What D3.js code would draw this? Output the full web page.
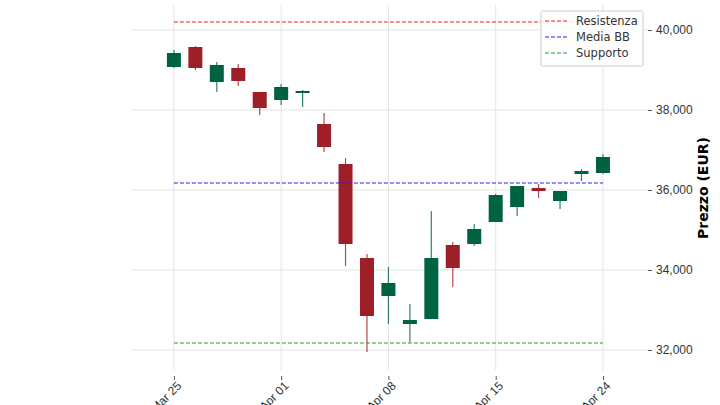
<!DOCTYPE html><html><head><meta charset="utf-8">
<script src="https://cdn.jsdelivr.net/npm/d3@7"></script>
<style>body{margin:0;background:#fff;font-family:"DejaVu Sans",sans-serif}</style></head><body>
<svg id="c" width="720" height="405"></svg>
<script>
const dates=["Mar 25","Mar 26","Mar 27","Mar 28","Mar 29","Apr 01","Apr 02","Apr 03","Apr 04","Apr 05","Apr 08","Apr 09","Apr 10","Apr 11","Apr 12","Apr 15","Apr 16","Apr 17","Apr 18","Apr 19","Apr 24"];
const openV=[39075,39575,38700,39050,38450,38250,38425,37650,36650,34300,33350,32650,32775,34625,34650,35200,35575,36050,35725,36400,36425];
const closeV=[39425,39050,39125,38725,38050,38575,38475,37075,34650,32850,33675,32750,34300,34050,35025,35875,36100,35975,35975,36475,36825];
const highV=[39500,39600,39200,39150,38450,38650,38500,37925,36800,34400,34075,33150,35475,34700,35150,35900,36100,36150,35975,36525,36900];
const lowV=[39050,39000,38450,38600,37875,38125,38075,36950,34100,31950,32650,32200,32775,33575,34600,35200,35350,35800,35525,36225,36400];
const tickIdx=[0,5,10,15,20];
const yTicks=[32000,34000,36000,38000,40000];
const levelNames=["Resistenza","Media BB","Supporto"];
const levelVals=[40200,36175,32175];
const levelCols=["#e82020","#2020f0","#20a020"];
const svg=d3.select("#c");
const L=131,R=648,T=5,B=370;
const x=d3.scaleLinear().domain([-2,22.1]).range([L,R]);
const y=d3.scaleLinear().domain([31500,40625]).range([B,T]);
const g=svg.append("g");
g.selectAll(".vg").data(tickIdx).join("line").attr("x1",d=>x(d)).attr("x2",d=>x(d)).attr("y1",T).attr("y2",B).attr("stroke","#ddd").attr("stroke-width",0.8);
g.selectAll(".hg").data(yTicks).join("line").attr("x1",L).attr("x2",R).attr("y1",d=>y(d)).attr("y2",d=>y(d)).attr("stroke","#ddd").attr("stroke-width",0.8);
const ya=d3.axisRight(y).tickValues(yTicks).tickSize(4).tickPadding(4);
const yg=svg.append("g").attr("transform",`translate(${R},0)`).call(ya);
yg.select(".domain").remove();
yg.selectAll("text").attr("font-size",12).attr("fill","#333");
yg.selectAll("line").attr("stroke","#555");
const xa=d3.axisBottom(x).tickValues(tickIdx).tickFormat(i=>dates[i]).tickSize(4);
const xg=svg.append("g").attr("transform",`translate(0,${B+6})`).call(xa);
xg.select(".domain").remove();
xg.selectAll("line").attr("stroke","#555");
xg.selectAll("text").attr("font-size",12).attr("fill","#333").attr("text-anchor","end").attr("transform","rotate(-45)").attr("dx","-2").attr("dy","6");
const idx=d3.range(dates.length);
const col=i=>closeV[i]>=openV[i]?"#006340":"#9e1f27";
g.selectAll(".w").data(idx).join("line").attr("x1",i=>x(i)).attr("x2",i=>x(i)).attr("y1",i=>y(highV[i])).attr("y2",i=>y(lowV[i])).attr("stroke",col).attr("stroke-width",1.2).attr("opacity",0.8);
g.selectAll(".b").data(idx).join("rect").attr("x",i=>x(i)-7).attr("width",14).attr("y",i=>y(Math.max(openV[i],closeV[i]))).attr("height",i=>Math.max(1.5,Math.abs(y(openV[i])-y(closeV[i])))).attr("fill",col);
g.selectAll(".lv").data(levelVals).join("line").attr("x1",x(0)).attr("x2",x(20)).attr("y1",d=>y(d)).attr("y2",d=>y(d)).attr("stroke",(d,i)=>levelCols[i]).attr("stroke-dasharray","4,2").attr("stroke-width",1);
const lg=svg.append("g").attr("transform","translate(541,11)");
lg.append("rect").attr("width",102).attr("height",55).attr("rx",2).attr("fill","#fff").attr("fill-opacity",0.85).attr("stroke","#ccc");
levelNames.forEach((n,i)=>{lg.append("line").attr("x1",4).attr("x2",26).attr("y1",10+i*16).attr("y2",10+i*16).attr("stroke",levelCols[i]).attr("stroke-dasharray","4,2");
lg.append("text").attr("x",35).attr("y",14+i*16).attr("font-size",11.5).attr("fill","#333").text(n);});
svg.append("text").attr("transform","translate(708,188) rotate(-90)").attr("text-anchor","middle").attr("font-size",14).attr("font-weight","bold").text("Prezzo (EUR)");
</script></body></html>
